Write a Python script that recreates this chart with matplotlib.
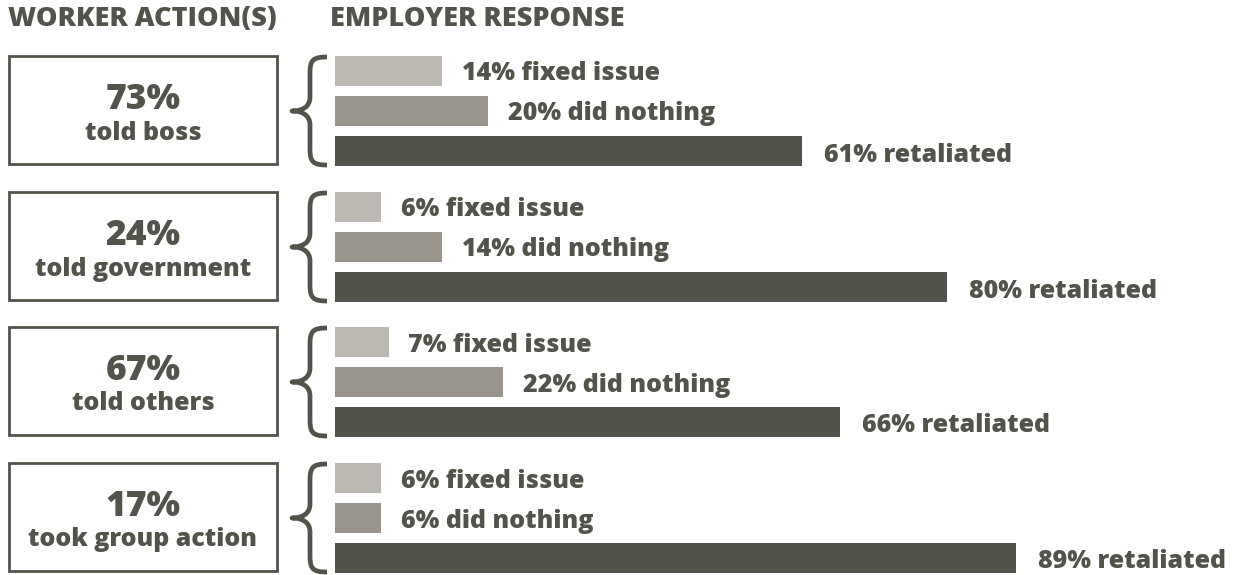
#!/usr/bin/env python3
"""Worker action vs employer response: boxes, braces and horizontal bars."""

import matplotlib.pyplot as plt
from matplotlib.patches import Rectangle, PathPatch
from matplotlib.path import Path

plt.rcParams['font.family'] = ['Open Sans', 'DejaVu Sans']

# data
action_pct = [73, 24, 67, 17]
action_labels = ["told boss", "told government", "told others", "took group action"]
response_names = ["fixed issue", "did nothing", "retaliated"]
fixed_pct = [14, 6, 7, 6]
nothing_pct = [20, 14, 22, 6]
retaliated_pct = [61, 80, 66, 89]

DARK = "#54534B"
COLORS = ["#BCB8B2", "#99958D", "#54534B"]
WEIGHT = 800

W, H = 1234, 575
fig = plt.figure(figsize=(W / 100, H / 100), dpi=100)

# pixel-space axes for boxes, braces and headers
ax = fig.add_axes([0, 0, 1, 1])
ax.set_xlim(0, W)
ax.set_ylim(H, 0)
ax.axis('off')

# bar axes: x in percent, y in pixels
BAR_X0 = 335
PX_PER_PCT = 7.65
bx = fig.add_axes([BAR_X0 / W, 0, 1 - BAR_X0 / W, 1])
bx.set_xlim(0, (W - BAR_X0) / PX_PER_PCT)
bx.set_ylim(H, 0)
bx.axis('off')

ax.text(8, 19, "WORKER ACTION(S)", fontsize=19.5, fontweight=WEIGHT, color=DARK,
        va='center', ha='left')
ax.text(330, 19, "EMPLOYER RESPONSE", fontsize=19.5, fontweight=WEIGHT, color=DARK,
        va='center', ha='left')


def brace(ax, y0, y1, x_end=327, x_stem=310, x_tip=292):
    ym = (y0 + y1) / 2
    verts = [
        (x_end, y0),
        (x_stem + 3, y0), (x_stem, y0 + 3), (x_stem, y0 + 16),
        (x_stem, ym - 14),
        (x_stem, ym - 4), (x_stem - 8, ym), (x_tip, ym),
        (x_stem - 8, ym), (x_stem, ym + 4), (x_stem, ym + 14),
        (x_stem, y1 - 16),
        (x_stem, y1 - 3), (x_stem + 3, y1), (x_end, y1),
    ]
    codes = [Path.MOVETO,
             Path.CURVE4, Path.CURVE4, Path.CURVE4,
             Path.LINETO,
             Path.CURVE4, Path.CURVE4, Path.CURVE4,
             Path.CURVE4, Path.CURVE4, Path.CURVE4,
             Path.LINETO,
             Path.CURVE4, Path.CURVE4, Path.CURVE4]
    ax.add_patch(PathPatch(Path(verts, codes), facecolor='none', edgecolor=DARK,
                           lw=3.4, capstyle='butt', joinstyle='round'))


group_top = [56, 192, 327, 463]
BAR_H = 30
PITCH = 40
GAP_PCT = 2.6

for g in range(4):
    top = group_top[g]
    # worker action box
    ax.add_patch(Rectangle((9, top), 268, 108, facecolor='white', edgecolor=DARK, lw=2))
    ax.text(143, top + 44, f"{action_pct[g]}%", fontsize=25.5, fontweight=WEIGHT,
            color=DARK, ha='center', va='center')
    ax.text(143, top + 77, action_labels[g], fontsize=18, fontweight=WEIGHT,
            color=DARK, ha='center', va='center')
    brace(ax, top + 1, top + 109)

    vals = [fixed_pct[g], nothing_pct[g], retaliated_pct[g]]
    ys = [top + BAR_H / 2 + i * PITCH for i in range(3)]
    bx.barh(ys, vals, height=BAR_H, color=COLORS, left=0)
    for i, (v, y) in enumerate(zip(vals, ys)):
        dy = 4 if i == 2 else 3
        dx = 2.9 if i == 2 else GAP_PCT
        bx.text(v + dx, y + dy, f"{v}% {response_names[i]}", fontsize=18,
                fontweight=WEIGHT, color=DARK, ha='left', va='center')

plt.savefig('out.png', dpi=100, facecolor='white')
